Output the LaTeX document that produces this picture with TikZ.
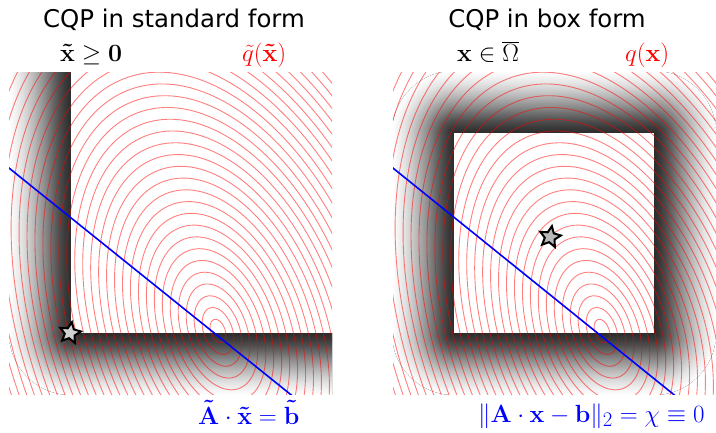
\documentclass[tikz,border=0pt]{standalone}
\usepackage[no-math]{fontspec}
\newfontfamily\titlefont{DejaVu Sans}
\usetikzlibrary{shapes.geometric}
\pgfdeclarehorizontalshading{shprof}{100bp}{color(0bp)=(black!83); color(25bp)=(black!83); color(30bp)=(black!77); color(35bp)=(black!69); color(40bp)=(black!59); color(45bp)=(black!48); color(50bp)=(black!38); color(55bp)=(black!28); color(60bp)=(black!19); color(65bp)=(black!11); color(70bp)=(black!5); color(75bp)=(white); color(100bp)=(white)}
\pgfdeclareradialshading{shrad}{\pgfpoint{0bp}{0bp}}{color(0bp)=(black!83); color(2.5bp)=(black!77); color(5bp)=(black!69); color(7.5bp)=(black!59); color(10bp)=(black!48); color(12.5bp)=(black!38); color(15bp)=(black!28); color(17.5bp)=(black!19); color(20bp)=(black!11); color(22.5bp)=(black!5); color(25bp)=(white); color(50bp)=(white)}
\begin{document}
\begin{tikzpicture}[x=1pt,y=-1pt,
  contour/.style={draw=red, opacity=0.5, line width=0.9pt},
  cline/.style={draw=blue, line width=1.6pt},
  starnode/.style={star, star points=5, star point ratio=2.1, minimum size=22pt, inner sep=0pt, draw=black, line width=2pt, rotate=-10},
  lbl/.style={anchor=base west, inner sep=0pt, font=\fontsize{24.88}{30}\selectfont},
  ttl/.style={anchor=base, inner sep=0pt, font=\titlefont\fontsize{24.4}{29}\selectfont}]
\useasboundingbox (0,0) rectangle (716,432);
% ---------- left panel ----------
\begin{scope}
  \clip (9,72) rectangle (332,394);
  \begin{scope}
    \clip (8,332) rectangle (72,396);
    \fill[shading=shrad] (71,333) circle (62);
  \end{scope}
  \fill[shading=shprof, shading angle=180] (9,71) rectangle (71,333);
  \fill[shading=shprof, shading angle=-90] (71,333) rectangle (333,395);
  \fill[white] (71,71) rectangle (333,333);
  \foreach \k in {1,...,34}
    \draw[contour, rotate around={20:(218,331)}] (218,331) ellipse ({7.2*\k} and {12.24*\k});
  \coordinate (la) at (-1,160);
  \coordinate (lb) at (302,403.6);
  \draw[cline] (la) -- (lb);
\end{scope}
\node[starnode, fill=black!18] (s1) at (70,333) {};
% ---------- right panel ----------
\begin{scope}
  \clip (393,72) rectangle (716,394);
  \begin{scope}
    \clip (390,70) rectangle (455,134);
    \fill[shading=shrad] (454,133) circle (62);
  \end{scope}
  \begin{scope}
    \clip (653,70) rectangle (720,134);
    \fill[shading=shrad] (654,133) circle (62);
  \end{scope}
  \begin{scope}
    \clip (390,332) rectangle (455,396);
    \fill[shading=shrad] (454,333) circle (62);
  \end{scope}
  \begin{scope}
    \clip (653,332) rectangle (720,396);
    \fill[shading=shrad] (654,333) circle (62);
  \end{scope}
  \fill[shading=shprof, shading angle=180] (392,133) rectangle (454,333);
  \fill[shading=shprof, shading angle=0] (654,133) rectangle (716,333);
  \fill[shading=shprof, shading angle=90] (454,71) rectangle (654,133);
  \fill[shading=shprof, shading angle=-90] (454,333) rectangle (654,395);
  \fill[white] (454,133) rectangle (654,333);
  \foreach \k in {1,...,34}
    \draw[contour, rotate around={20:(602,331)}] (602,331) ellipse ({7.2*\k} and {12.24*\k});
  \coordinate (ra) at (383,160);
  \coordinate (rb) at (685,403.6);
  \draw[cline] (ra) -- (rb);
\end{scope}
\node[starnode, fill=black!28] (s2) at (550,237) {};
% ---------- texts ----------
\node[ttl] (t1) at (174,27) {CQP in standard form};
\node[ttl] (t2) at (547,27) {CQP in box form};
\node[lbl] (c1) at (60,61) {$\mathbf{\tilde x}\geq\mathbf{0}$};
\node[lbl, text=red] (q1) at (242,61) {$\tilde q(\mathbf{\tilde x})$};
\node[lbl] (c2) at (457,61) {$\mathbf{x}\in\overline{\Omega}$};
\node[lbl, text=red] (q2) at (625,61) {$q(\mathbf{x})$};
\node[lbl, text=blue] (e1) at (198,424) {$\mathbf{\tilde A}\cdot\mathbf{\tilde x}=\mathbf{\tilde b}$};
\node[lbl, text=blue] (e2) at (478,422) {$\|\mathbf{A}\cdot\mathbf{x}-\mathbf{b}\|_2=\chi\equiv0$};
\end{tikzpicture}
\end{document}
